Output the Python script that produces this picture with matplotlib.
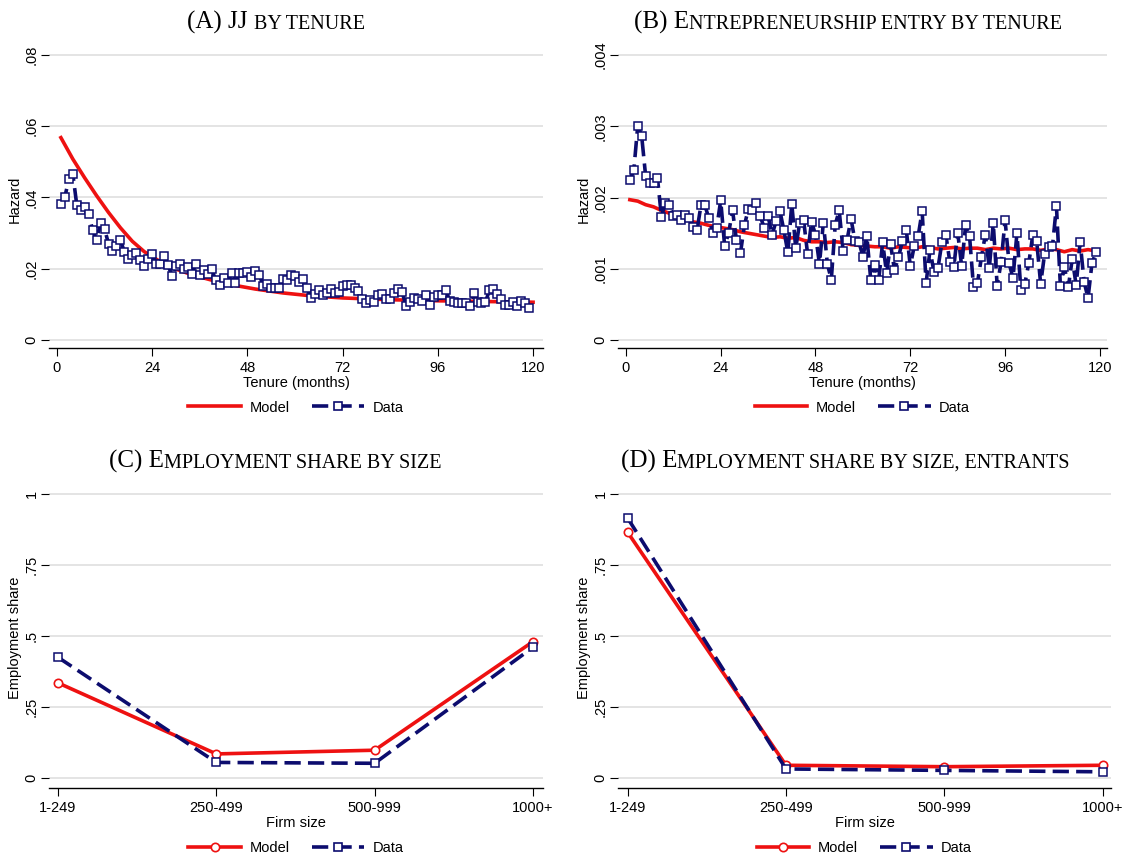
import matplotlib
matplotlib.use("Agg")
import matplotlib.pyplot as plt
from matplotlib.lines import Line2D
import numpy as np

# ---- data ----
months = np.arange(1, 120)

jj_data = [0.0382, 0.0402, 0.0451, 0.0466, 0.0379, 0.0365, 0.0373, 0.0354, 0.0308, 0.0281,
           0.0328, 0.0312, 0.0270, 0.0250, 0.0265, 0.0281, 0.0247, 0.0228, 0.0238, 0.0243,
           0.0225, 0.0208, 0.0228, 0.0241, 0.0213, 0.0213, 0.0236, 0.0210, 0.0180, 0.0208,
           0.0213, 0.0200, 0.0206, 0.0186, 0.0213, 0.0183, 0.0197, 0.0184, 0.0198, 0.0168,
           0.0154, 0.0173, 0.0159, 0.0189, 0.0159, 0.0189, 0.0189, 0.0191, 0.0176, 0.0195,
           0.0183, 0.0152, 0.0156, 0.0145, 0.0145, 0.0147, 0.0172, 0.0167, 0.0182, 0.0180,
           0.0164, 0.0170, 0.0147, 0.0118, 0.0129, 0.0139, 0.0126, 0.0133, 0.0144, 0.0131,
           0.0135, 0.0152, 0.0154, 0.0154, 0.0147, 0.0137, 0.0116, 0.0103, 0.0112, 0.0108,
           0.0127, 0.0129, 0.0114, 0.0114, 0.0133, 0.0142, 0.0135, 0.0094, 0.0108, 0.0117,
           0.0114, 0.0110, 0.0125, 0.0098, 0.0122, 0.0125, 0.0127, 0.0140, 0.0110, 0.0107,
           0.0105, 0.0105, 0.0104, 0.0094, 0.0132, 0.0108, 0.0103, 0.0106, 0.0140, 0.0144,
           0.0128, 0.0115, 0.0098, 0.0097, 0.0108, 0.0096, 0.0110, 0.0105, 0.0091]

jj_model_months = [1, 4, 7, 10, 13, 16, 19, 22, 26, 30, 34, 39, 44, 50, 57, 64, 72, 84, 96, 108, 120]
jj_model = [0.0568, 0.0508, 0.0455, 0.0405, 0.0358, 0.0315, 0.0277, 0.0248, 0.0220, 0.0199,
            0.0183, 0.0168, 0.0155, 0.0143, 0.0132, 0.0124, 0.0118, 0.0113, 0.0110, 0.0108, 0.0106]

ent_data = [0.00225, 0.00238, 0.00301, 0.00286, 0.00230, 0.00221, 0.00221, 0.00227, 0.00173, 0.00193,
            0.00189, 0.00174, 0.00176, 0.00168, 0.00175, 0.00172, 0.00159, 0.00154, 0.00189, 0.00189,
            0.00171, 0.00151, 0.00158, 0.00196, 0.00132, 0.00150, 0.00182, 0.00140, 0.00122, 0.00161,
            0.00184, 0.00183, 0.00192, 0.00174, 0.00158, 0.00174, 0.00147, 0.00167, 0.00181, 0.00154,
            0.00123, 0.00191, 0.00129, 0.00165, 0.00168, 0.00121, 0.00166, 0.00148, 0.00107, 0.00165,
            0.00107, 0.00085, 0.00162, 0.00182, 0.00125, 0.00141, 0.00170, 0.00139, 0.00138, 0.00117,
            0.00146, 0.00084, 0.00106, 0.00084, 0.00137, 0.00094, 0.00135, 0.00098, 0.00116, 0.00139,
            0.00154, 0.00104, 0.00132, 0.00146, 0.00181, 0.00080, 0.00127, 0.00095, 0.00101, 0.00137,
            0.00148, 0.00110, 0.00102, 0.00151, 0.00104, 0.00161, 0.00146, 0.00075, 0.00080, 0.00116,
            0.00148, 0.00101, 0.00164, 0.00076, 0.00110, 0.00168, 0.00108, 0.00087, 0.00150, 0.00070,
            0.00079, 0.00108, 0.00147, 0.00139, 0.00079, 0.00121, 0.00130, 0.00132, 0.00188, 0.00076,
            0.00103, 0.00074, 0.00114, 0.00077, 0.00138, 0.00082, 0.00059, 0.00108, 0.00123]

ent_model_months = list(range(1, 121, 2))
ent_model = [0.00197, 0.00195, 0.00190, 0.00187, 0.00182, 0.00178, 0.00173, 0.00170, 0.00166, 0.00164,
             0.00161, 0.00159, 0.00157, 0.00155, 0.00152, 0.00150, 0.00148, 0.00146, 0.00144, 0.00145,
             0.00143, 0.00144, 0.00140, 0.00138, 0.00138, 0.00137, 0.00138, 0.00137, 0.00134, 0.00133,
             0.00132, 0.00131, 0.00131, 0.00129, 0.00131, 0.00130, 0.00129, 0.00131, 0.00130, 0.00128,
             0.00129, 0.00130, 0.00128, 0.00129, 0.00129, 0.00127, 0.00129, 0.00128, 0.00129, 0.00127,
             0.00128, 0.00128, 0.00126, 0.00128, 0.00127, 0.00124, 0.00127, 0.00125, 0.00127, 0.00125]

size_labels = ["1-249", "250-499", "500-999", "1000+"]
share_model = [0.335, 0.085, 0.098, 0.480]
share_data = [0.425, 0.055, 0.052, 0.460]
entr_share_model = [0.865, 0.045, 0.040, 0.045]
entr_share_data = [0.915, 0.032, 0.027, 0.022]

RED = "#ee1111"
NAVY = "#0c0c6e"
GRID = "#dcdcdc"

plt.rcParams["font.family"] = ["Liberation Sans", "DejaVu Sans"]

W, H = 1125, 860
fig = plt.figure(figsize=(W / 100, H / 100), dpi=100)


def add_axes(left, top, right, bottom):
    return fig.add_axes([left / W, 1 - bottom / H, (right - left) / W, (bottom - top) / H])


def style(ax, yticks, ylabels, ylim, xlim, ylabel, xlabel):
    ax.set_xlim(xlim)
    ax.set_ylim(ylim)
    ax.set_yticks(yticks)
    ax.set_yticklabels(ylabels, rotation=90, va="center")
    for y in yticks:
        ax.axhline(y, color=GRID, lw=1.1, zorder=0)
    for s in ["top", "right", "left"]:
        ax.spines[s].set_visible(False)
    ax.spines["bottom"].set_linewidth(1.0)
    ax.tick_params(axis="both", length=6, width=0.8, labelsize=10.5)
    ax.tick_params(axis="y", pad=1.5)
    ax.tick_params(axis="x", pad=3)
    ax.set_ylabel(ylabel, fontsize=10.5, labelpad=2)
    ax.set_xlabel(xlabel, fontsize=10.5, labelpad=1)


def add_legend(ax, model_marker):
    h1 = Line2D([], [], color=RED, lw=2.6, marker=model_marker, ms=6, mfc="white", mec=RED, mew=1.2)
    h2 = Line2D([], [], color=NAVY, lw=2.6, dashes=(4.5, 2), marker="s", ms=6,
                mfc="white", mec=NAVY, mew=1.2)
    ax.legend([h1, h2], ["Model", "Data"], loc="center", bbox_to_anchor=(0.5, -0.2), ncol=2,
              frameon=False, fontsize=10.5, handlelength=3.6, columnspacing=1.5, handletextpad=0.6)


def sc_title(cx, base, big, small, gap_em=0.0, big_size=18, small_size=14.5):
    # small-caps title: capitals at full size, the rest as smaller capitals
    r = fig.canvas.get_renderer()
    t1 = fig.text(0, 1 - base / H, big, fontsize=big_size, family="Liberation Serif", va="baseline")
    t2 = fig.text(0, 1 - base / H, small, fontsize=small_size, family="Liberation Serif", va="baseline")
    w1 = t1.get_window_extent(r).width
    w2 = t2.get_window_extent(r).width
    gap = gap_em * big_size * 100 / 72
    x0 = cx - (w1 + gap + w2) / 2
    t1.set_x(x0 / W)
    t2.set_x((x0 + w1 + gap) / W)


# ---- (A) JJ by tenure ----
axA = add_axes(49, 50, 543, 348)
style(axA, [0, 0.02, 0.04, 0.06, 0.08], ["0", ".02", ".04", ".06", ".08"],
      (-0.00225, 0.0814), (-2.0, 122.5), "Hazard", "Tenure (months)")
axA.set_xticks([0, 24, 48, 72, 96, 120])
axA.plot(jj_model_months, jj_model, color=RED, lw=2.6, zorder=3)
axA.plot(months, jj_data, color=NAVY, lw=2.6, dashes=(4.5, 2), marker="s", ms=6,
         mfc="white", mec=NAVY, mew=1.1, zorder=4)
add_legend(axA, None)
sc_title(276, 29, "(A) JJ", "BY TENURE", gap_em=0.25)

# ---- (B) Entrepreneurship entry by tenure ----
axB = add_axes(618, 50, 1107, 348)
style(axB, [0, 0.001, 0.002, 0.003, 0.004], ["0", ".001", ".002", ".003", ".004"],
      (-0.00011, 0.00407), (-2.0, 121.8), "Hazard", "Tenure (months)")
axB.set_xticks([0, 24, 48, 72, 96, 120])
axB.plot(ent_model_months, ent_model, color=RED, lw=2.6, zorder=3)
axB.plot(months, ent_data, color=NAVY, lw=2.6, dashes=(4.5, 2), marker="s", ms=6,
         mfc="white", mec=NAVY, mew=1.1, zorder=4)
add_legend(axB, None)
sc_title(848, 29, "(B) E", "NTREPRENEURSHIP ENTRY BY TENURE")

# ---- (C) Employment share by size ----
pos = np.arange(len(size_labels))
axC = add_axes(49, 488, 543, 788)
style(axC, [0, 0.25, 0.5, 0.75, 1], ["0", ".25", ".5", ".75", "1"],
      (-0.035, 1.021), (-0.057, 3.064), "Employment share", "Firm size")
axC.set_xticks(pos)
axC.set_xticklabels(size_labels)
axC.plot(pos, share_model, color=RED, lw=2.6, marker="o", ms=6, mfc="white", mec=RED, mew=1.2, zorder=3)
axC.plot(pos, share_data, color=NAVY, lw=2.6, dashes=(4.5, 2), marker="s", ms=6,
         mfc="white", mec=NAVY, mew=1.1, zorder=4)
add_legend(axC, "o")
sc_title(275, 468, "(C) E", "MPLOYMENT SHARE BY SIZE")

# ---- (D) Employment share by size, entrants ----
axD = add_axes(618, 488, 1111, 788)
style(axD, [0, 0.25, 0.5, 0.75, 1], ["0", ".25", ".5", ".75", "1"],
      (-0.035, 1.021), (-0.061, 3.053), "Employment share", "Firm size")
axD.set_xticks(pos)
axD.set_xticklabels(size_labels)
axD.plot(pos, entr_share_model, color=RED, lw=2.6, marker="o", ms=6, mfc="white", mec=RED, mew=1.2, zorder=3)
axD.plot(pos, entr_share_data, color=NAVY, lw=2.6, dashes=(4.5, 2), marker="s", ms=6,
         mfc="white", mec=NAVY, mew=1.1, zorder=4)
add_legend(axD, "o")
sc_title(845, 468, "(D) E", "MPLOYMENT SHARE BY SIZE, ENTRANTS")

fig.savefig("out.png", dpi=100, facecolor="white")
